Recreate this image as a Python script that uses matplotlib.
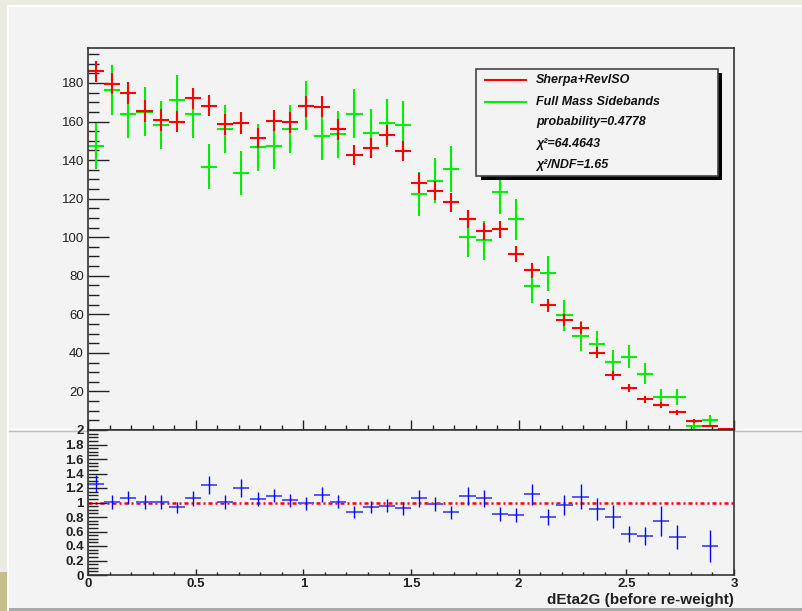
import numpy as np
import matplotlib
matplotlib.use('Agg')
import matplotlib.pyplot as plt
from matplotlib.patches import Rectangle
from matplotlib.lines import Line2D
from matplotlib.ticker import MultipleLocator

plt.rcParams['font.family'] = ['Liberation Sans', 'DejaVu Sans']

# binning of dEta2G: 40 bins between 0 and 3
x_lo, x_hi, n_bins = 0.0, 3.0, 40

# Sherpa+RevISO (red)
sherpa = [186, 179.7, 174.8, 165.5, 160.9, 160, 172, 168.3, 158.6, 159.3,
          151.4, 160.4, 159.7, 167.9, 167.8, 155.9, 142.8, 146.2, 152.9, 144.8,
          127.9, 124.1, 118.1, 109.5, 103, 104.1, 91.4, 82.8, 64.6, 57.2,
          52.9, 40.2, 28.4, 21.7, 16.0, 13.0, 9.2, 4.7, 2.2, 0.5]
sherpa_err = [5.6, 5.6, 5.6, 5.6, 5.6, 5.5, 5.6, 5.6, 5.4, 5.5,
              5.3, 5.5, 5.5, 5.6, 5.6, 5.4, 5.2, 5.3, 5.3, 5.2,
              5.2, 5.0, 4.8, 4.6, 4.4, 4.4, 4.3, 4.0, 3.4, 3.2,
              3.2, 2.8, 2.4, 2.0, 1.8, 1.6, 1.3, 0.9, 0.6, 0.3]

# Full Mass Sidebands (green)
sideband = [147.2, 176.2, 164, 165, 158.3, 171, 164, 136.6, 156.2, 133.3,
            146.6, 147.2, 156.2, 168.3, 152.4, 153.3, 164.1, 154.1, 159.3, 158.3,
            122.4, 129.3, 135.4, 100.1, 98.4, 123.2, 109.2, 74.5, 81.3, 59.4,
            49, 44.4, 35.5, 38.1, 29.1, 17.2, 17.2, 2.1, 5.2, 0]
sideband_err = [12, 13, 12.5, 12.7, 12.3, 13, 12.6, 11.5, 12.4, 11.5,
                12, 12, 12.4, 12.9, 12.3, 12.3, 12.6, 12.3, 12.5, 12.5,
                11.3, 11.6, 11.9, 10.2, 10.1, 11.3, 10.6, 8.8, 9.1, 7.9,
                7.8, 6.8, 6.1, 6.0, 5.4, 4.0, 4.0, 1.5, 2.6, 0]

# ratio Sherpa / sidebands (blue)
ratio = [1.26, 1.01, 1.067, 1.007, 1.01, 0.933, 1.057, 1.24, 1.01, 1.2,
         1.048, 1.094, 1.03, 0.99, 1.108, 1.01, 0.865, 0.94, 0.956, 0.92,
         1.057, 0.975, 0.864, 1.094, 1.057, 0.84, 0.828, 1.113, 0.796, 0.966,
         1.08, 0.91, 0.805, 0.57, 0.533, 0.74, 0.53, np.nan, 0.40, np.nan]
ratio_err = [0.115, 0.099, 0.092, 0.097, 0.097, 0.08, 0.103, 0.12, 0.097, 0.12,
             0.099, 0.092, 0.092, 0.092, 0.106, 0.092, 0.08, 0.087, 0.092, 0.092,
             0.115, 0.097, 0.085, 0.122, 0.122, 0.092, 0.099, 0.145, 0.108, 0.143,
             0.17, 0.154, 0.156, 0.11, 0.124, 0.207, 0.166, np.nan, 0.216, np.nan]

legend_lines = ['Sherpa+RevISO', 'Full Mass Sidebands']
legend_extra = ['probability=0.4778', '\u03c7\u00b2=64.4643', '\u03c7\u00b2/NDF=1.65']

edges = np.linspace(x_lo, x_hi, n_bins + 1)
centers = 0.5 * (edges[:-1] + edges[1:])
half_w = 0.5 * (edges[1] - edges[0])

W, H = 802, 611
fig = plt.figure(figsize=(W / 100, H / 100), dpi=100, facecolor='#ecebe3')
pad_col = '#f3f3f3'


def fx(px):
    return px / W


def fy(py):
    return 1 - py / H


# canvas with ROOT style bevel
fig.add_artist(Rectangle((fx(7), fy(611)), 1, fy(5) - fy(611), transform=fig.transFigure,
                         facecolor='white', edgecolor='none', zorder=-5))
fig.add_artist(Rectangle((fx(9), fy(608)), 1, fy(7) - fy(608), transform=fig.transFigure,
                         facecolor=pad_col, edgecolor='none', zorder=-4))
fig.add_artist(Rectangle((fx(9), fy(611)), 1, fy(608) - fy(611), transform=fig.transFigure,
                         facecolor='#a9a9a9', edgecolor='none', zorder=-4))
fig.add_artist(Rectangle((0, 0), fx(7), fy(572), transform=fig.transFigure,
                         facecolor='#c6bf8a', edgecolor='none', zorder=-4))
fig.add_artist(Line2D([fx(9), 1], [fy(428.5), fy(428.5)], transform=fig.transFigure,
                      color='white', lw=1, zorder=-3))
fig.add_artist(Line2D([fx(9), 1], [fy(430.5), fy(430.5)], transform=fig.transFigure,
                      color='#bdbdbd', lw=1, zorder=-3))

ax = fig.add_axes([fx(88), fy(430), fx(734) - fx(88), fy(48.3) - fy(430)])
ax2 = fig.add_axes([fx(88), fy(575), fx(734) - fx(88), fy(430) - fy(575)])

for a in (ax, ax2):
    a.set_facecolor(pad_col)
    a.set_xlim(x_lo, x_hi)
    for s in a.spines.values():
        s.set_color('#333333')
        s.set_linewidth(1.2)
    a.xaxis.set_major_locator(MultipleLocator(0.5))
    a.xaxis.set_minor_locator(MultipleLocator(0.1))

# top pad
ax.errorbar(centers, sideband, xerr=half_w, yerr=sideband_err, fmt='none',
            ecolor='#00ee00', elinewidth=1.5, capsize=0)
ax.errorbar(centers, sherpa, xerr=half_w, yerr=sherpa_err, fmt='none',
            ecolor='#ff0000', elinewidth=1.5, capsize=0)
ax.set_ylim(0, 198)
ax.set_yticks(np.arange(0, 181, 20))
ax.set_yticklabels([''] + [str(v) for v in range(20, 181, 20)])
ax.yaxis.set_minor_locator(MultipleLocator(5))
ax.tick_params(axis='y', which='major', direction='in', length=15, width=1,
               color='#222222', labelsize=9.5, labelcolor='#222222', pad=3)
ax.tick_params(axis='y', which='minor', direction='in', length=8, width=1, color='#222222')
ax.tick_params(axis='x', which='major', direction='in', length=7, width=1,
               color='#222222', labelbottom=False)
ax.tick_params(axis='x', which='minor', direction='in', length=3.5, width=1, color='#222222')

# legend box with shadow
fig.add_artist(Rectangle((fx(480.5), fy(179.5)), fx(722) - fx(480.5), fy(73) - fy(179.5),
                         transform=fig.transFigure, facecolor='black', edgecolor='none', zorder=5))
fig.add_artist(Rectangle((fx(476), fy(175.7)), fx(718.3) - fx(476), fy(69.3) - fy(175.7),
                         transform=fig.transFigure, facecolor=pad_col, edgecolor='#444444',
                         lw=1.2, zorder=6))
rows = [80, 101.5, 122.5, 143.5, 165]
for name, col, ry in zip(legend_lines, ['#ff0000', '#00ee00'], rows):
    fig.add_artist(Line2D([fx(485), fx(526)], [fy(ry), fy(ry)], transform=fig.transFigure,
                          color=col, lw=1.5, zorder=7))
    fig.text(fx(536), fy(ry), name, ha='left', va='center', fontsize=9,
             fontweight='bold', fontstyle='italic', color='#111111', zorder=7)
for txt, ry in zip(legend_extra, rows[2:]):
    fig.text(fx(536), fy(ry), txt, ha='left', va='center', fontsize=9,
             fontweight='bold', fontstyle='italic', color='#111111', zorder=7)

# bottom pad: ratio
ax2.errorbar(centers, ratio, xerr=half_w, fmt='none', ecolor='#5555ff',
             elinewidth=1.4, capsize=0)
ax2.errorbar(centers, ratio, yerr=ratio_err, fmt='none', ecolor='#0000ff',
             elinewidth=1.0, capsize=0)
ax2.axhline(1.0, color='#ff0000', lw=1.8, ls=(0, (1.6, 1.2, 0.8, 1.2)), zorder=1)
ax2.set_ylim(0, 2)
ax2.yaxis.set_major_locator(MultipleLocator(0.2))
ax2.yaxis.set_minor_locator(MultipleLocator(0.05))
ax2.set_yticks(np.round(np.arange(0, 2.01, 0.2), 1))
ax2.set_yticklabels(['0', '0.2', '0.4', '0.6', '0.8', '1', '1.2', '1.4', '1.6', '1.8', '2'])
ax2.set_xticks(np.arange(0, 3.01, 0.5))
ax2.set_xticklabels(['0', '0.5', '1', '1.5', '2', '2.5', '3'])
ax2.tick_params(axis='y', which='major', direction='in', length=14, width=1,
                color='#222222', labelsize=9.5, pad=3)
ax2.tick_params(axis='y', which='minor', direction='in', length=7, width=1, color='#222222')
ax2.tick_params(axis='x', which='major', direction='in', length=4, width=1,
                color='#222222', labelsize=9.5, pad=2)
ax2.tick_params(axis='x', which='minor', direction='in', length=2.5, width=1, color='#222222')
for lab in ax2.get_xticklabels() + ax2.get_yticklabels():
    lab.set_fontweight('bold')
    lab.set_color('#222222')
ax2.set_xlabel('dEta2G (before re-weight)', loc='right', fontsize=11,
               fontweight='bold', color='#222222')
ax2.xaxis.set_label_coords(1.0, -0.125)

fig.savefig('out.png', dpi=100, facecolor=fig.get_facecolor())
